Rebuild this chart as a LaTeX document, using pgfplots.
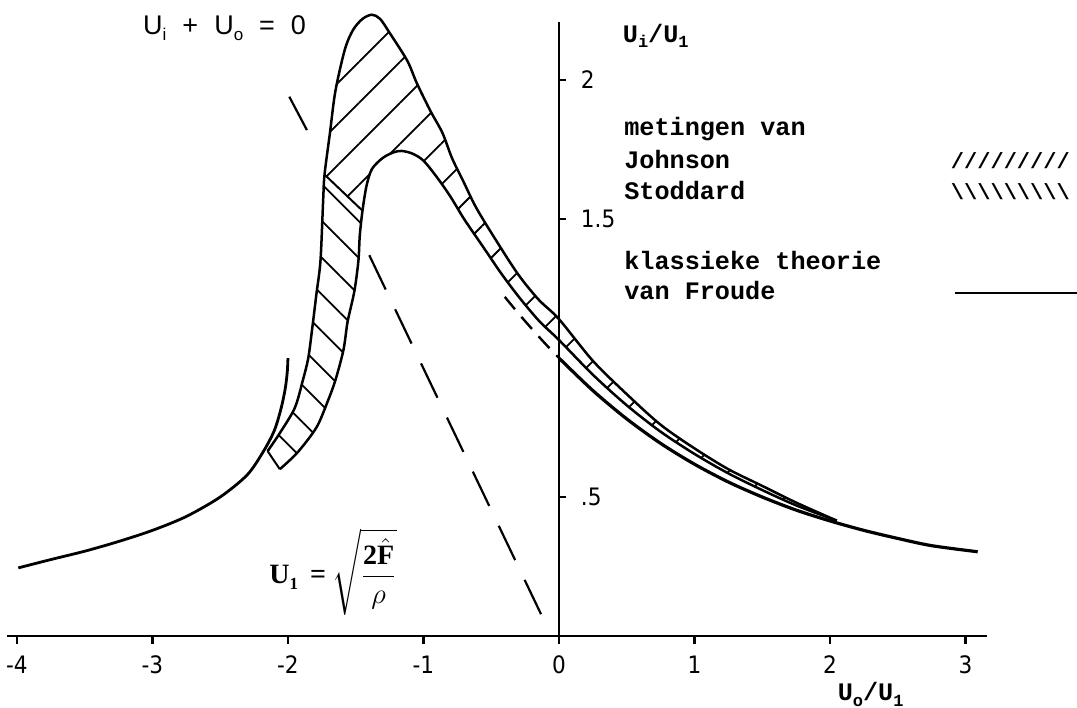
\documentclass[border=0pt]{standalone}
\usepackage{fontspec}
\usepackage{amsmath}
\usepackage{pgfplots}
\pgfplotsset{compat=1.18}
\usetikzlibrary{patterns.meta}
\setmainfont{Liberation Serif}
\newfontfamily\tickfont{DejaVu Sans Condensed}
\newfontfamily\tw{Liberation Mono}
\newfontfamily\sansf{Liberation Sans}

\newcommand{\tkfont}{\tickfont\fontsize{12bp}{14bp}\selectfont}
\newcommand{\lgfont}{\tw\bfseries\fontsize{12.6bp}{15bp}\selectfont}
\newcommand{\lowsub}[1]{\raisebox{-0.4ex}{\fontsize{8.5bp}{9bp}\selectfont #1}}

\begin{document}
\begin{tikzpicture}
\begin{axis}[
    scale only axis,
    width=538.5bp, height=354bp,
    xmin=-4.125, xmax=3.823,
    ymin=-0.259, ymax=2.288,
    hide axis,
    clip=false
]
\coordinate (SW) at (rel axis cs:0,0);
\coordinate (NE) at (rel axis cs:1,1);

% axes
\draw[line width=1.4bp] (axis cs:-4.07,0) -- (axis cs:3.16,0);
\draw[line width=1.4bp] (axis cs:0,0) -- (axis cs:0,2.21);
\pgfplotsinvokeforeach{-4,-3,-2,-1,0,1,2,3}{
  \draw[line width=1.2bp] (axis cs:#1,0) -- (axis cs:#1,-0.028);
}
\pgfplotsinvokeforeach{0.5,1.5,2}{
  \draw[line width=1.2bp] (axis cs:0,#1) -- (axis cs:0.055,#1);
}
\node[anchor=north,font=\tkfont] at (axis cs:-4,-0.045) {-4};
\node[anchor=north,font=\tkfont] at (axis cs:-3,-0.045) {-3};
\node[anchor=north,font=\tkfont] at (axis cs:-2,-0.045) {-2};
\node[anchor=north,font=\tkfont] at (axis cs:-1,-0.045) {-1};
\node[anchor=north,font=\tkfont] at (axis cs:0,-0.045) {0};
\node[anchor=north,font=\tkfont] at (axis cs:1,-0.045) {1};
\node[anchor=north,font=\tkfont] at (axis cs:2,-0.045) {2};
\node[anchor=north,font=\tkfont] at (axis cs:3,-0.045) {3};
\node[anchor=west,font=\tkfont] at (axis cs:0.11,2) {2};
\node[anchor=west,font=\tkfont] at (axis cs:0.11,1.5) {1.5};
\node[anchor=west,font=\tkfont] at (axis cs:0.11,0.5) {.5};

% axis labels
\node[anchor=west,font=\lgfont] at (axis cs:0.42,2.16) {U\lowsub{i}/U\lowsub{1}};
\node[font=\lgfont] at (axis cs:2.30,-0.21) {U\lowsub{o}/U\lowsub{1}};

% Johnson (///)
\addplot[draw=none, pattern={Lines[angle=45,distance=14.5bp,line width=0.9bp]}] coordinates {
 (-1.73,1.66) (-1.69,1.81) (-1.65,1.96) (-1.58,2.11) (-1.52,2.18) (-1.45,2.22)
 (-1.38,2.235) (-1.32,2.22) (-1.25,2.17) (-1.12,2.07) (-1.05,1.99) (-0.95,1.89)
 (-0.86,1.81) (-0.79,1.72) (-0.71,1.64) (-0.61,1.54) (-0.46,1.42) (-0.30,1.30)
 (-0.15,1.21) (0,1.14) (0.25,0.99) (0.5,0.87) (0.75,0.76) (1.0,0.675) (1.25,0.60)
 (1.5,0.54) (1.75,0.48) (2.05,0.415)
 (1.75,0.47) (1.5,0.525) (1.25,0.585) (1.0,0.655) (0.75,0.735) (0.5,0.83)
 (0.25,0.94) (0,1.065) (-0.14,1.13) (-0.28,1.21) (-0.42,1.30) (-0.56,1.40)
 (-0.70,1.50) (-0.80,1.58) (-0.90,1.65) (-1.00,1.71) (-1.08,1.735) (-1.16,1.745)
 (-1.22,1.74) (-1.30,1.72) (-1.38,1.68) (-1.42,1.62) (-1.45,1.53)
};
% Stoddard (\\\)
\addplot[draw=none, pattern={Lines[angle=-45,distance=13bp,line width=0.9bp]}] coordinates {
 (-1.73,1.66) (-1.74,1.57) (-1.76,1.35) (-1.79,1.23) (-1.82,1.11) (-1.85,1.00)
 (-1.89,0.92) (-1.95,0.82) (-2.06,0.73) (-2.15,0.665)
 (-2.06,0.60) (-1.93,0.66) (-1.79,0.75) (-1.71,0.84) (-1.65,0.92) (-1.59,1.03)
 (-1.56,1.13) (-1.51,1.24) (-1.48,1.35) (-1.47,1.44) (-1.45,1.53)
};

% outer boundary of the measured band
\addplot[smooth, line width=1.25bp] coordinates {
 (-2.15,0.665) (-2.06,0.73) (-1.95,0.82) (-1.89,0.92) (-1.85,1.00) (-1.82,1.11)
 (-1.79,1.23) (-1.76,1.35) (-1.74,1.57) (-1.73,1.66) (-1.69,1.81) (-1.65,1.96)
 (-1.58,2.11) (-1.52,2.18) (-1.45,2.22) (-1.38,2.235) (-1.32,2.22) (-1.25,2.17)
 (-1.12,2.07) (-1.05,1.99) (-0.95,1.89) (-0.86,1.81) (-0.79,1.72) (-0.71,1.64)
 (-0.61,1.54) (-0.46,1.42) (-0.30,1.30) (-0.15,1.21) (0,1.14) (0.25,0.99)
 (0.5,0.87) (0.75,0.76) (1.0,0.675) (1.25,0.60) (1.5,0.54) (1.75,0.48) (2.05,0.415)
};
% inner boundary
\addplot[smooth, line width=1.25bp] coordinates {
 (-2.06,0.60) (-1.93,0.66) (-1.79,0.75) (-1.71,0.84) (-1.65,0.92) (-1.59,1.03)
 (-1.56,1.13) (-1.51,1.24) (-1.48,1.35) (-1.47,1.44) (-1.45,1.53) (-1.42,1.62)
 (-1.38,1.68) (-1.30,1.72) (-1.22,1.74) (-1.16,1.745) (-1.08,1.735) (-1.00,1.71)
 (-0.90,1.65) (-0.80,1.58) (-0.70,1.50) (-0.56,1.40) (-0.42,1.30) (-0.28,1.21)
 (-0.14,1.13) (0,1.065) (0.25,0.94) (0.5,0.83) (0.75,0.735) (1.0,0.655)
 (1.25,0.585) (1.5,0.525) (1.75,0.47) (2.05,0.415)
};
% closing and dividing lines
\addplot[line width=1bp] coordinates {(-2.15,0.665) (-2.06,0.60)};
\addplot[line width=1bp] coordinates {(-1.73,1.66) (-1.45,1.53)};

% classical theory of Froude
\addplot[smooth, line width=1.4bp] coordinates {
 (-2.0,1.0) (-2.005,0.95) (-2.02,0.89) (-2.05,0.82) (-2.1,0.74) (-2.18,0.665)
 (-2.3,0.58) (-2.5,0.50) (-2.75,0.43) (-3.0,0.38) (-3.25,0.34) (-3.5,0.305)
 (-3.75,0.275) (-3.99,0.245)
};
\addplot[smooth, line width=1.6bp] coordinates {
 (0,1.0) (0.25,0.883) (0.5,0.781) (0.75,0.693) (1.0,0.618) (1.25,0.554)
 (1.5,0.5) (1.75,0.453) (2.0,0.414) (2.25,0.380) (2.5,0.351) (2.75,0.325) (3.09,0.303)
};
\addplot[smooth, line width=1.2bp, dash pattern=on 8bp off 5bp] coordinates {
 (-0.40,1.22) (-0.3,1.161) (-0.2,1.105) (-0.1,1.051) (0,1.0)
};

% U_i + U_o = 0
\addplot[line width=1.1bp] coordinates {(-1.99,1.94) (-1.86,1.82)};
\addplot[line width=1.1bp, dash pattern=on 19bp off 11bp] coordinates {(-1.40,1.37) (-0.07,0.015)};

% annotations
\node[anchor=west,font=\sansf\fontsize{13.5bp}{15bp}\selectfont] at (axis cs:-3.12,2.187)
  {U\lowsub{i}\hspace{8bp}+\hspace{8bp}U\lowsub{o}\hspace{8bp}=\hspace{8bp}0};
\node[anchor=west,inner sep=0pt,font=\bfseries\fontsize{14bp}{16bp}\selectfont] at (axis cs:-2.14,0.23)
  {U\lowsub{1}\hspace{6bp}=\hspace{3bp}$\sqrt{\dfrac{\textbf{2}\hat{\textbf{F}}}{\rho}}$};

% legend
\node[anchor=base west,font=\lgfont] at (axis cs:0.43,1.80) {metingen van};
\node[anchor=base west,font=\lgfont] at (axis cs:0.43,1.683) {Johnson};
\node[anchor=base west,font=\lgfont] at (axis cs:0.43,1.572) {Stoddard};
\node[anchor=base west,font=\lgfont] at (axis cs:0.43,1.32) {klassieke theorie};
\node[anchor=base west,font=\lgfont] at (axis cs:0.43,1.212) {van Froude};
\node[anchor=base west,inner sep=0pt,font=\tw\bfseries\fontsize{11bp}{13bp}\selectfont] at (axis cs:2.89,1.683) {/////////};
\node[anchor=base west,inner sep=0pt,font=\tw\bfseries\fontsize{11bp}{13bp}\selectfont] at (axis cs:2.89,1.572) {\textbackslash\textbackslash\textbackslash\textbackslash\textbackslash\textbackslash\textbackslash\textbackslash\textbackslash};
\draw[line width=1.1bp] (axis cs:2.92,1.234) -- (axis cs:3.823,1.234);
\end{axis}
\pgfresetboundingbox
\path[use as bounding box] (SW) rectangle (NE);
\end{tikzpicture}
\end{document}
